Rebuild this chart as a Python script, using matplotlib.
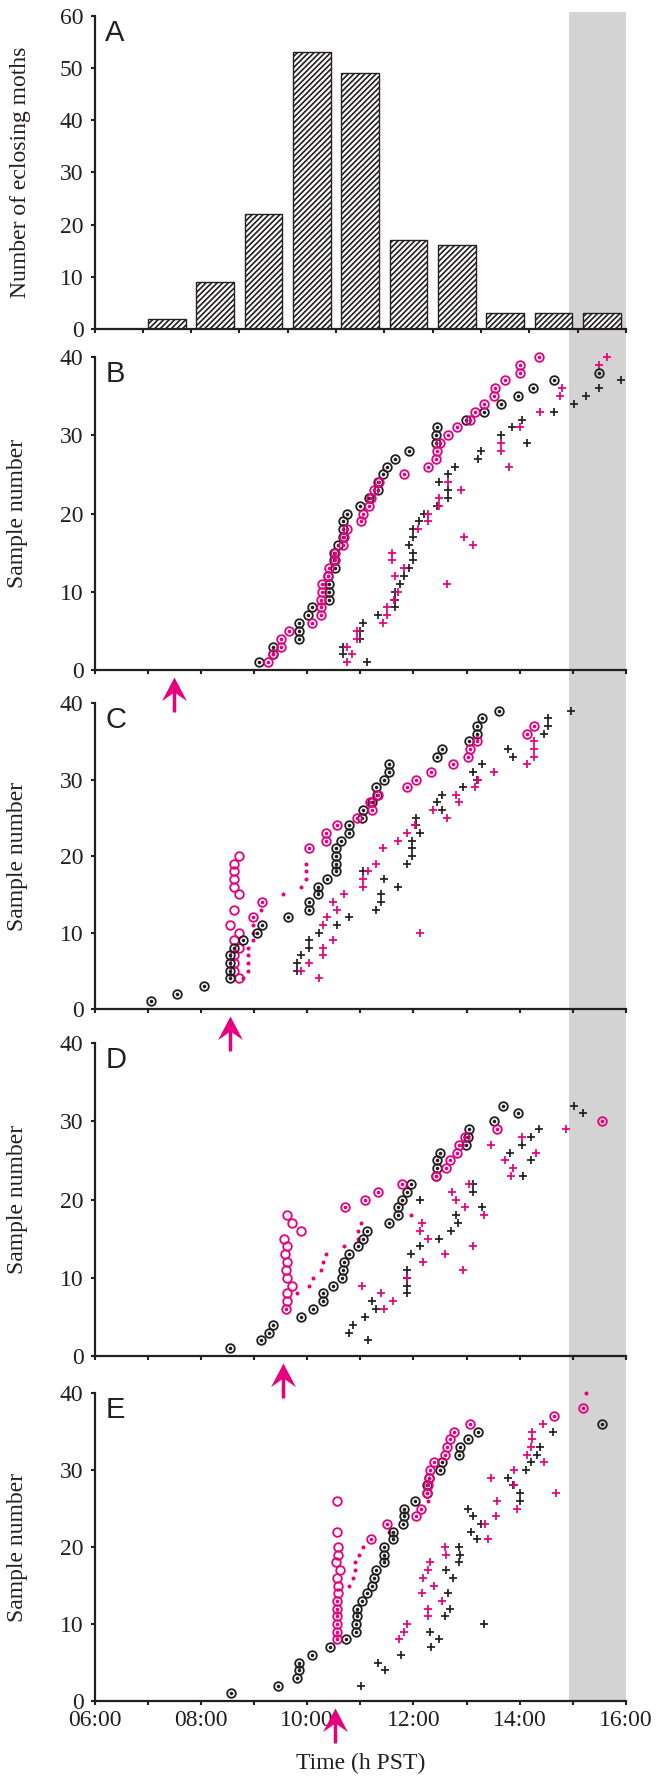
import numpy as np
import matplotlib
matplotlib.use('Agg')
import matplotlib.pyplot as plt
import matplotlib.transforms as mtransforms
from matplotlib.patches import Rectangle
from matplotlib.path import Path

INK = '#231f20'
PINK = '#e6007e'
GREY = '#d3d3d3'

plt.rcParams['font.family'] = ['Liberation Serif', 'DejaVu Serif']
plt.rcParams['font.size'] = 17
plt.rcParams['hatch.linewidth'] = 1.2

# --- panel A: moths eclosing per hourly bin ---
eclosion_hours = ['06', '07', '08', '09', '10', '11', '12', '13', '14', '15', '16']
eclosion_counts = [0, 2, 9, 22, 53, 49, 17, 16, 3, 3, 3]

# --- panels B-E: time (decimal h PST) of each sample; list index + 1 = sample number ---
# ring = circled dot, open = open circle, dot = bare dot, plus = cross; _k black, _m magenta
B_ring_k = [9.10, 9.35, 9.35, 9.84, 9.84, 9.84, 10.01, 10.09, 10.41, 10.41,
            10.41, 10.39, 10.52, 10.50, 10.50, 10.58, 10.67, 10.67, 10.67, 10.75,
            10.99, 11.16, 11.34, 11.34, 11.43, 11.51, 11.66, 11.92, 12.43, 12.43,
            12.44, 12.99, 13.33, 13.64, 13.96, 14.25, 14.65, 15.49]
B_ring_m = [9.26, 9.36, 9.51, 9.51, 9.66, 10.09, 10.26, 10.26, 10.26, 10.28,
            10.28, 10.39, 10.42, 10.52, 10.52, 10.67, 10.70, 10.75, 11.01, 11.05,
            11.16, 11.20, 11.25, 11.36, 11.83, 12.28, 12.43, 12.44, 12.50, 12.66,
            12.82, 13.07, 13.16, 13.33, 13.51, 13.53, 13.73, 14.00, 14.00, 14.36]
B_plus_k = [11.13, 10.67, 10.67, 10.99, 10.99, 11.05, 11.34, 11.66, 11.66, 11.66,
            11.75, 11.83, 11.92, 12.00, 12.00, 11.92, 12.00, 12.00, 12.10, 12.20,
            12.45, 12.66, 12.66, 12.49, 12.66, 12.79, 13.21, 13.27, 14.13, 13.64,
            13.85, 14.05, 14.65, 15.03, 15.24, 15.49, 15.90]
B_plus_m = [10.75, 10.84, 10.75, 10.94, 10.94, 11.43, 11.51, 11.51, 11.63, 11.71,
            12.64, 11.66, 11.83, 11.60, 11.60, 13.13, 12.95, 12.08, 12.27, 12.28,
            12.49, 12.49, 12.89, 12.66, None, 13.79, None, 13.64, 13.64, None,
            14.00, None, 14.39, None, 14.76, 14.80, None, None, 15.49, 15.64]

C_ring_k = [7.07, 7.55, 8.06, 8.54, 8.54, 8.54, 8.54, 8.63, 8.79, 9.06,
            9.15, 9.64, 10.03, 10.03, 10.20, 10.20, 10.38, 10.55, 10.55, 10.55,
            10.55, 10.64, 10.78, 10.78, 11.03, 11.05, 11.22, 11.31, 11.30, 11.45,
            11.54, 11.54, 12.45, 12.54, 13.04, 13.20, 13.20, 13.30, 13.61]
C_open_m = [None, None, None, 8.71, 8.63, 8.63, 8.63, 8.71, 8.63, 8.71,
            8.54, None, 8.63, None, 8.71, 8.63, 8.63, 8.63, 8.63, 8.71]
C_dot_m = [None, None, None, 8.79, 8.88, 8.88, 8.88, 8.88, 8.98, 8.98,
           8.98, None, 9.14, None, 9.55, 9.89, 9.98, 9.98, 9.98]
C_ring_m = [None, None, None, None, None, None, None, None, None, None,
            None, 8.98, None, 9.15, None, None, None, None, None, None,
            10.03, 10.35, 10.35, 10.56, 10.94, 11.22, 11.19, 11.33, 11.88, 12.05,
            12.33, 12.75, 13.02, 13.06, 13.20, 14.13, 14.27]
C_plus_k = [None, None, None, None, 9.81, 9.81, 9.89, 10.04, 10.04, 10.22,
            10.56, 10.78, 11.30, 11.39, 11.39, 11.71, 11.45, 11.05, 11.88, 11.97,
            11.97, 11.97, 12.12, 12.05, 12.05, 12.54, 12.45, 12.54, 12.94, 13.20,
            13.12, 13.30, 13.87, 13.78, None, 14.45, 14.54, 14.54, 14.97]
C_plus_m = [None, None, None, 10.22, 9.89, 10.04, 10.29, 10.29, 10.48, 12.12,
            10.29, 10.38, 10.56, 10.48, 10.70, 11.05, 11.05, 11.14, 11.30, None,
            11.43, 11.71, 11.88, 12.03, 12.63, 12.37, 12.86, 12.80, 13.15, 13.22,
            13.52, 14.13, 14.27, 14.27, 14.27]

D_ring_k = [8.54, 9.13, 9.29, 9.36, 9.88, 10.12, 10.30, 10.30, 10.48, 10.66,
            10.67, 10.70, 10.78, 10.96, 11.05, 11.13, 11.54, 11.71, 11.71, 11.78,
            11.88, 11.96, 12.42, 12.45, 12.45, 12.50, 12.99, 13.02, 13.04, 13.52,
            13.96, 13.69]
D_open_m = [None, None, None, None, None, None, 9.63, 9.63, 9.72, 9.63,
            9.60, 9.63, 9.58, 9.63, 9.56, 9.88, 9.72, 9.63]
D_ring_m = [None, None, None, None, None, 9.60, None, None, None, None,
            None, None, None, None, None, None, None, None, 10.72, 11.08,
            11.33, 11.78, 12.42, 12.62, 12.68, 12.82, 12.86, 12.97, 13.57, 15.54]
D_dot_m = [None, None, None, None, None, None, None, 9.81, 10.03, 10.12,
           10.27, 10.30, 10.35, 10.70, 10.96, 10.96, 11.01, 11.96]
D_plus_k = [None, 11.14, 10.78, 10.87, 11.08, 11.30, 11.22, 11.88, 11.88, 11.88,
            11.88, None, 11.96, 12.12, 12.48, 12.70, 12.83, 12.80, 13.30, 12.12,
            13.13, 13.13, 14.07, None, 14.21, 13.82, 14.05, 14.21, 14.36, None,
            15.20, 15.03]
D_plus_m = [None, None, None, None, None, 11.45, 11.61, 11.39, 11.04, 11.88,
            12.94, 12.19, 12.60, 13.13, 12.28, 12.12, 12.17, 13.33, 12.98, 12.80,
            12.72, 13.04, 13.84, 13.87, 13.73, 14.30, 13.46, 14.04, 14.88]

E_ring_k = [8.57, 9.46, 9.81, 9.85, 9.85, 10.09, 10.44, 10.73, 10.92, 10.92,
            10.94, 10.94, 11.03, 11.12, 11.22, 11.26, 11.29, 11.44, 11.44, 11.45,
            11.61, 11.61, 11.81, 11.83, 11.83, 12.03, 12.25, 12.25, 12.30, 12.50,
            12.54, 12.85, 12.87, 13.02, 13.22, 15.54]
E_open_m = [None, None, None, None, None, None, None, None, None, None,
            None, None, None, 10.59, 10.59, 10.57, 10.61, 10.55, 10.59, 10.59,
            None, 10.56, None, None, None, 10.56]
E_ring_m = [None, None, None, None, None, None, None, 10.56, 10.56, 10.57,
            10.57, 10.57, 10.57, None, None, None, None, None, None, None,
            11.21, None, 11.50, 12.05, 12.14, None, 12.26, 12.28, 12.30, 12.32,
            12.39, 12.60, 12.64, 12.68, 12.77, 13.06, 14.65, 15.20]
E_dot_m = [None, None, None, None, None, None, None, None, None, None,
           None, None, None, None, 10.78, 10.86, 10.90, 10.90, 10.97, 11.05,
           None, 11.55, None, None, None, 12.28, None, None, None, None,
           None, None, None, None, None, None, None, None, None, 15.24]
E_plus_k = [None, 11.02, None, 11.47, 11.33, 11.76, 12.33, 12.48, 12.32, 13.32,
            12.60, 12.68, None, 12.65, None, 12.74, 12.62, 12.86, 12.88, 12.85,
            13.19, 13.09, 13.27, 13.12, 13.02, 14.00, 14.00, 13.88, 13.78, 14.11,
            14.21, 14.32, 14.38, None, 14.63]
E_plus_m = [None, None, None, None, None, None, None, 11.73, 11.83, 11.88,
            12.27, 12.28, 12.54, 12.16, 12.39, 12.19, 12.28, 12.32, 12.62, 12.60,
            13.40, None, 13.35, 13.55, 13.94, 13.57, 14.68, 13.90, 13.46, 13.89,
            14.45, 14.13, 14.21, 14.23, 14.24, 14.43]

# time of treatment (arrows under panels B-E)
treat_times = [7.50, 8.55, 9.55, 10.53]
dark_start = 14.93
hour_ticks = [6, 7, 8, 9, 10, 11, 12, 13, 14, 15, 16]
hour_labels = ['06:00', '', '08:00', '', '10:00', '', '12:00', '', '14:00', '', '16:00']

W, H = 657, 1779
fig = plt.figure(figsize=(W / 100, H / 100), dpi=100)

# notched arrow head, tip at the origin pointing up
HEAD = Path([(0, 0), (10, -19), (0, -12), (-10, -19), (0, 0)],
            [Path.MOVETO, Path.LINETO, Path.LINETO, Path.LINETO, Path.CLOSEPOLY])


def add_panel(top, bottom, left=94.5, right=626):
    ax = fig.add_axes([left / W, 1 - bottom / H, (right - left) / W, (bottom - top) / H])
    ax.set_facecolor('none')
    for side in ('top', 'right'):
        ax.spines[side].set_visible(False)
    for side in ('left', 'bottom'):
        ax.spines[side].set_linewidth(1.6)
        ax.spines[side].set_color(INK)
    ax.tick_params(direction='out', length=3, width=1.5, color=INK,
                   labelsize=17, labelcolor=INK)
    ax.tick_params(axis='y', pad=5)
    ax.tick_params(axis='x', pad=3.5)
    return ax


def series(times):
    pts = [(t, i + 1) for i, t in enumerate(times) if t is not None]
    return [p[0] for p in pts], [p[1] for p in pts]


def ring(ax, times, col, dot=True):
    x, y = series(times)
    ax.plot(x, y, 'o', ms=6.2, mfc='none', mec=col, mew=1.3, clip_on=False, zorder=4)
    if dot:
        ax.plot(x, y, 'o', ms=2.6, mfc=col, mew=0, clip_on=False, zorder=4)


def dots(ax, times, col):
    x, y = series(times)
    ax.plot(x, y, 'o', ms=2.9, mfc=col, mew=0, clip_on=False, zorder=3)


def plus(ax, times, col):
    x, y = series(times)
    ax.plot(x, y, '+', ms=5.6, mec=col, mew=1.25, clip_on=False, zorder=3)


def letter(ax, s):
    ax.text(0.02, 0.99, s, transform=ax.transAxes, ha='left', va='top',
            family='Liberation Sans', fontsize=21, color=INK)


def treat_arrow(ax, t, h):
    # arrow standing just below the time axis, pointing up at the treatment time
    tr = mtransforms.blended_transform_factory(ax.transData, ax.transAxes)
    ax.plot([t, t], [-42 / h, -20 / h], color=PINK, lw=2.5, solid_capstyle='butt',
            transform=tr, clip_on=False)
    ax.plot([t], [-7 / h], marker=HEAD, ms=34, mfc=PINK, mec='none',
            transform=tr, clip_on=False)


# panel A
axA = add_panel(15.7, 329)
xa = np.arange(len(eclosion_counts)) + 0.5
axA.bar(xa, eclosion_counts, width=0.78, color='white', edgecolor=INK,
        linewidth=1.0, hatch='//////', zorder=2)
axA.set_xlim(0, len(eclosion_counts))
axA.set_ylim(0, 60)
axA.set_xticks(np.arange(len(eclosion_counts) + 1))
axA.set_xticklabels([])
axA.set_yticks([0, 10, 20, 30, 40, 50, 60])
axA.set_ylabel('Number of eclosing moths', fontsize=17, color=INK)
axA.yaxis.set_label_coords(-0.12, 0.5)
letter(axA, 'A')

panels = [
    ('B', 357, 670, B_ring_k, B_ring_m, None, None, B_plus_k, B_plus_m),
    ('C', 703, 1009, C_ring_k, C_ring_m, C_open_m, C_dot_m, C_plus_k, C_plus_m),
    ('D', 1043, 1356, D_ring_k, D_ring_m, D_open_m, D_dot_m, D_plus_k, D_plus_m),
    ('E', 1393, 1701, E_ring_k, E_ring_m, E_open_m, E_dot_m, E_plus_k, E_plus_m),
]

axes = []
for k, (name, top, bottom, rk, rm, om, dm, pk, pm) in enumerate(panels):
    ax = add_panel(top, bottom)
    ax.set_xlim(6, 16)
    ax.set_ylim(0, 40)
    ax.set_yticks([0, 10, 20, 30, 40])
    ax.set_xticks(hour_ticks)
    ax.set_xticklabels(hour_labels if name == 'E' else [])
    plus(ax, pk, INK)
    plus(ax, pm, PINK)
    if dm is not None:
        dots(ax, dm, PINK)
    if om is not None:
        ring(ax, om, PINK, dot=False)
    ring(ax, rk, INK)
    ring(ax, rm, PINK)
    ax.set_ylabel('Sample number', fontsize=17, color=INK)
    ax.yaxis.set_label_coords(-0.125, 0.5)
    letter(ax, name)
    treat_arrow(ax, treat_times[k], bottom - top)
    axes.append(ax)

axE = axes[-1]
axE.set_xlabel('Time (h PST)', fontsize=17, color=INK)
axE.xaxis.set_label_coords(0.5, -0.168)

# dark phase shading running through all panels
band = mtransforms.blended_transform_factory(axE.transData, fig.transFigure)
fig.add_artist(Rectangle((dark_start, 1 - 1701 / H), 16 - dark_start,
                         (1701 - 12.3) / H, transform=band,
                         facecolor=GREY, edgecolor='none', zorder=-1))

fig.savefig('out.png', dpi=100)
